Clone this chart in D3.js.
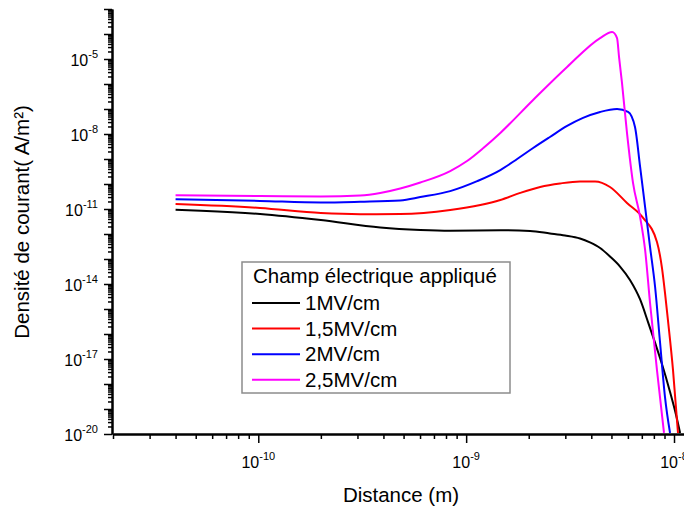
<!DOCTYPE html>
<html><head><meta charset="utf-8">
<script src="https://cdn.jsdelivr.net/npm/d3@7"></script>
<style>body{margin:0;background:#fff;} text{font-family:"Liberation Sans",Arial,sans-serif;}</style>
</head><body>
<svg id="chart" width="684" height="510"></svg>
<script>
// ---- data ----
const seriesNames = ["1MV/cm", "1,5MV/cm", "2MV/cm", "2,5MV/cm"];
const seriesColors = ["#000000", "#ff0000", "#0000ff", "#ff00ff"];

const distance1 = [4.0e-11, 5.3e-11, 1.02e-10, 2.0e-10, 3.86e-10, 6.02e-10, 8.38e-10, 1.46e-9, 2.03e-9, 2.53e-9, 2.99e-9, 3.53e-9, 3.94e-9, 4.41e-9, 4.92e-9, 5.5e-9, 6.14e-9, 6.87e-9, 7.5e-9, 8.11e-9, 8.75e-9, 9.57e-9, 1.023e-8, 1.07e-8];
const current1  = [9.3e-12, 8.5e-12, 6.3e-12, 3.6e-12, 1.82e-12, 1.45e-12, 1.35e-12, 1.41e-12, 1.32e-12, 1.05e-12, 8.7e-13, 6.6e-13, 4.6e-13, 2.75e-13, 1.26e-13, 5.0e-14, 1.45e-14, 2.4e-15, 3.0e-16, 4.4e-17, 6.3e-18, 4.8e-19, 5.8e-20, 1.1e-20];

const distance2 = [4.0e-11, 1.02e-10, 2.0e-10, 3.09e-10, 4.82e-10, 8.38e-10, 1.17e-9, 1.46e-9, 1.82e-9, 2.27e-9, 2.83e-9, 3.53e-9, 4.17e-9, 4.92e-9, 5.94e-9, 7.10e-9, 8.28e-9, 8.75e-9, 9.05e-9, 9.35e-9, 9.89e-9, 1.045e-8];
const current2  = [1.58e-11, 1.1e-11, 6.9e-12, 6.2e-12, 6.3e-12, 9.1e-12, 1.45e-11, 2.3e-11, 4.4e-11, 7.6e-11, 1.05e-10, 1.26e-10, 1.26e-10, 7.6e-11, 1.74e-11, 4.4e-12, 4.8e-13, 4.4e-14, 4.4e-15, 3.6e-16, 3.6e-18, 1.1e-20];

const distance3 = [4.0e-11, 1.02e-10, 2.0e-10, 3.09e-10, 4.82e-10, 6.02e-10, 8.38e-10, 1.13e-9, 1.46e-9, 1.76e-9, 2.10e-9, 2.53e-9, 3.06e-9, 3.65e-9, 4.41e-9, 5.32e-9, 6.01e-9, 6.49e-9, 6.87e-9, 7.26e-9, 7.67e-9, 8.11e-9, 8.57e-9, 9.05e-9, 9.57e-9];
const current3  = [2.45e-11, 2.1e-11, 1.82e-11, 1.95e-11, 2.2e-11, 3.0e-11, 5.2e-11, 1.3e-10, 3.6e-10, 1.0e-9, 2.75e-9, 7.6e-9, 2.1e-8, 4.4e-8, 7.6e-8, 1.0e-7, 7.6e-8, 1.9e-8, 4.8e-10, 1.2e-11, 3.0e-13, 7.6e-15, 4.4e-17, 3.0e-19, 1.1e-20];

const distance4 = [4.0e-11, 1.02e-10, 2.0e-10, 3.09e-10, 3.86e-10, 4.82e-10, 6.02e-10, 8.38e-10, 1.01e-9, 1.21e-9, 1.46e-9, 2.10e-9, 3.06e-9, 4.41e-9, 5.04e-9, 5.32e-9, 5.44e-9, 5.62e-9, 5.94e-9, 6.35e-9, 6.87e-9, 7.26e-9, 7.67e-9, 8.28e-9, 8.95e-9];
const current4  = [3.53e-11, 3.31e-11, 3.16e-11, 3.47e-11, 4.37e-11, 6.6e-11, 1.15e-10, 3.3e-10, 8.3e-10, 2.75e-9, 1.1e-8, 2.3e-7, 4.8e-6, 6.9e-5, 1.2e-4, 6.9e-5, 1.2e-5, 1.1e-6, 1.1e-8, 1.1e-10, 4.8e-12, 2.3e-13, 1.7e-15, 3.6e-18, 1.1e-20];

const xDomain = [2e-11, 1.117e-8];
const yDomain = [1e-20, 1e-3];
const xLabelExps = [-10, -9, -8];
const yLabelExps = [-20, -17, -14, -11, -8, -5];
const xTitle = "Distance (m)";
const yTitle = "Densit\u00e9 de courant( A/m\u00b2)";
const legendTitle = "Champ \u00e9lectrique appliqu\u00e9";

// ---- drawing ----
const svg = d3.select("#chart");
const x = d3.scaleLog().domain(xDomain).range([113, 684]);
const y = d3.scaleLog().domain(yDomain).range([434, 9]);

const allDist = [distance1, distance2, distance3, distance4];
const allCur = [current1, current2, current3, current4];

const line = d3.line().x(d => x(d[0])).y(d => y(d[1])).curve(d3.curveMonotoneX);
allDist.forEach((xs, i) => {
  const pts = xs.map((v, j) => [v, allCur[i][j]]);
  svg.append("path").datum(pts).attr("d", line)
    .attr("fill", "none").attr("stroke", seriesColors[i]).attr("stroke-width", 2)
    .attr("stroke-linejoin", "round");
});

// ticks
function decadeTicks(dom, withMinor) {
  const lo = Math.floor(Math.log10(dom[0])), hi = Math.ceil(Math.log10(dom[1]));
  const out = [];
  for (let e = lo; e <= hi; e++) {
    for (let m = 1; m <= 9; m++) {
      if (!withMinor && m > 1) continue;
      if (withMinor && m === 1) continue;
      const v = m * Math.pow(10, e);
      if (v >= dom[0] * 0.999 && v <= dom[1] * 1.001) out.push(v);
    }
  }
  return out;
}
const xMinor = decadeTicks(xDomain, true);
const xMajor = decadeTicks(xDomain, false);
const yMinor = decadeTicks(yDomain, true);
const yMajor = decadeTicks(yDomain, false);

const gx = svg.append("g").attr("transform", "translate(0,434)");
gx.append("g").call(d3.axisBottom(x).tickValues(xMinor).tickSize(5).tickSizeOuter(0).tickFormat(""));
gx.append("g").call(d3.axisBottom(x).tickValues(xMajor).tickSize(9).tickSizeOuter(0).tickFormat(""));
gx.selectAll("path.domain").attr("stroke-width", 2);
gx.selectAll(".tick line").attr("stroke-width", 1.5);

const gy = svg.append("g").attr("transform", "translate(112,0)");
gy.append("g").call(d3.axisLeft(y).tickValues(yMinor).tickSize(4).tickSizeOuter(0).tickFormat(""));
gy.append("g").call(d3.axisLeft(y).tickValues(yMajor).tickSize(8).tickSizeOuter(0).tickFormat(""));
gy.selectAll("path.domain").attr("stroke-width", 2);
gy.selectAll(".tick line").attr("stroke-width", 1.5);

// tick labels with superscripts
xLabelExps.forEach(e => {
  const t = svg.append("text").attr("x", x(Math.pow(10, e))).attr("y", 468)
    .attr("text-anchor", "middle").attr("font-size", 16).attr("fill", "#000");
  t.append("tspan").text("10");
  t.append("tspan").attr("font-size", 11).attr("dy", -8).text(String(e));
});
yLabelExps.forEach(e => {
  const t = svg.append("text").attr("x", 98).attr("y", y(Math.pow(10, e)) + 7)
    .attr("text-anchor", "end").attr("font-size", 16).attr("fill", "#000");
  t.append("tspan").text("10");
  t.append("tspan").attr("font-size", 11).attr("dy", -8).text(String(e));
});

// axis titles
svg.append("text").attr("x", 401).attr("y", 502).attr("text-anchor", "middle")
  .attr("font-size", 20.5).text(xTitle);
svg.append("text").attr("transform", "translate(29,222) rotate(-90)")
  .attr("text-anchor", "middle").attr("font-size", 20.5).text(yTitle);

// legend
const lg = svg.append("g");
lg.append("rect").attr("x", 242).attr("y", 262).attr("width", 268).attr("height", 131)
  .attr("fill", "#fff").attr("stroke", "#8c8c8c").attr("stroke-width", 1.5);
lg.append("text").attr("x", 253).attr("y", 283).attr("font-size", 20.5).text(legendTitle);
seriesNames.forEach((n, i) => {
  const cy = 303 + i * 25.6;
  lg.append("line").attr("x1", 252).attr("x2", 300).attr("y1", cy).attr("y2", cy)
    .attr("stroke", seriesColors[i]).attr("stroke-width", 2);
  lg.append("text").attr("x", 305).attr("y", cy + 7).attr("font-size", 20.5).text(n);
});
</script>
</body></html>
